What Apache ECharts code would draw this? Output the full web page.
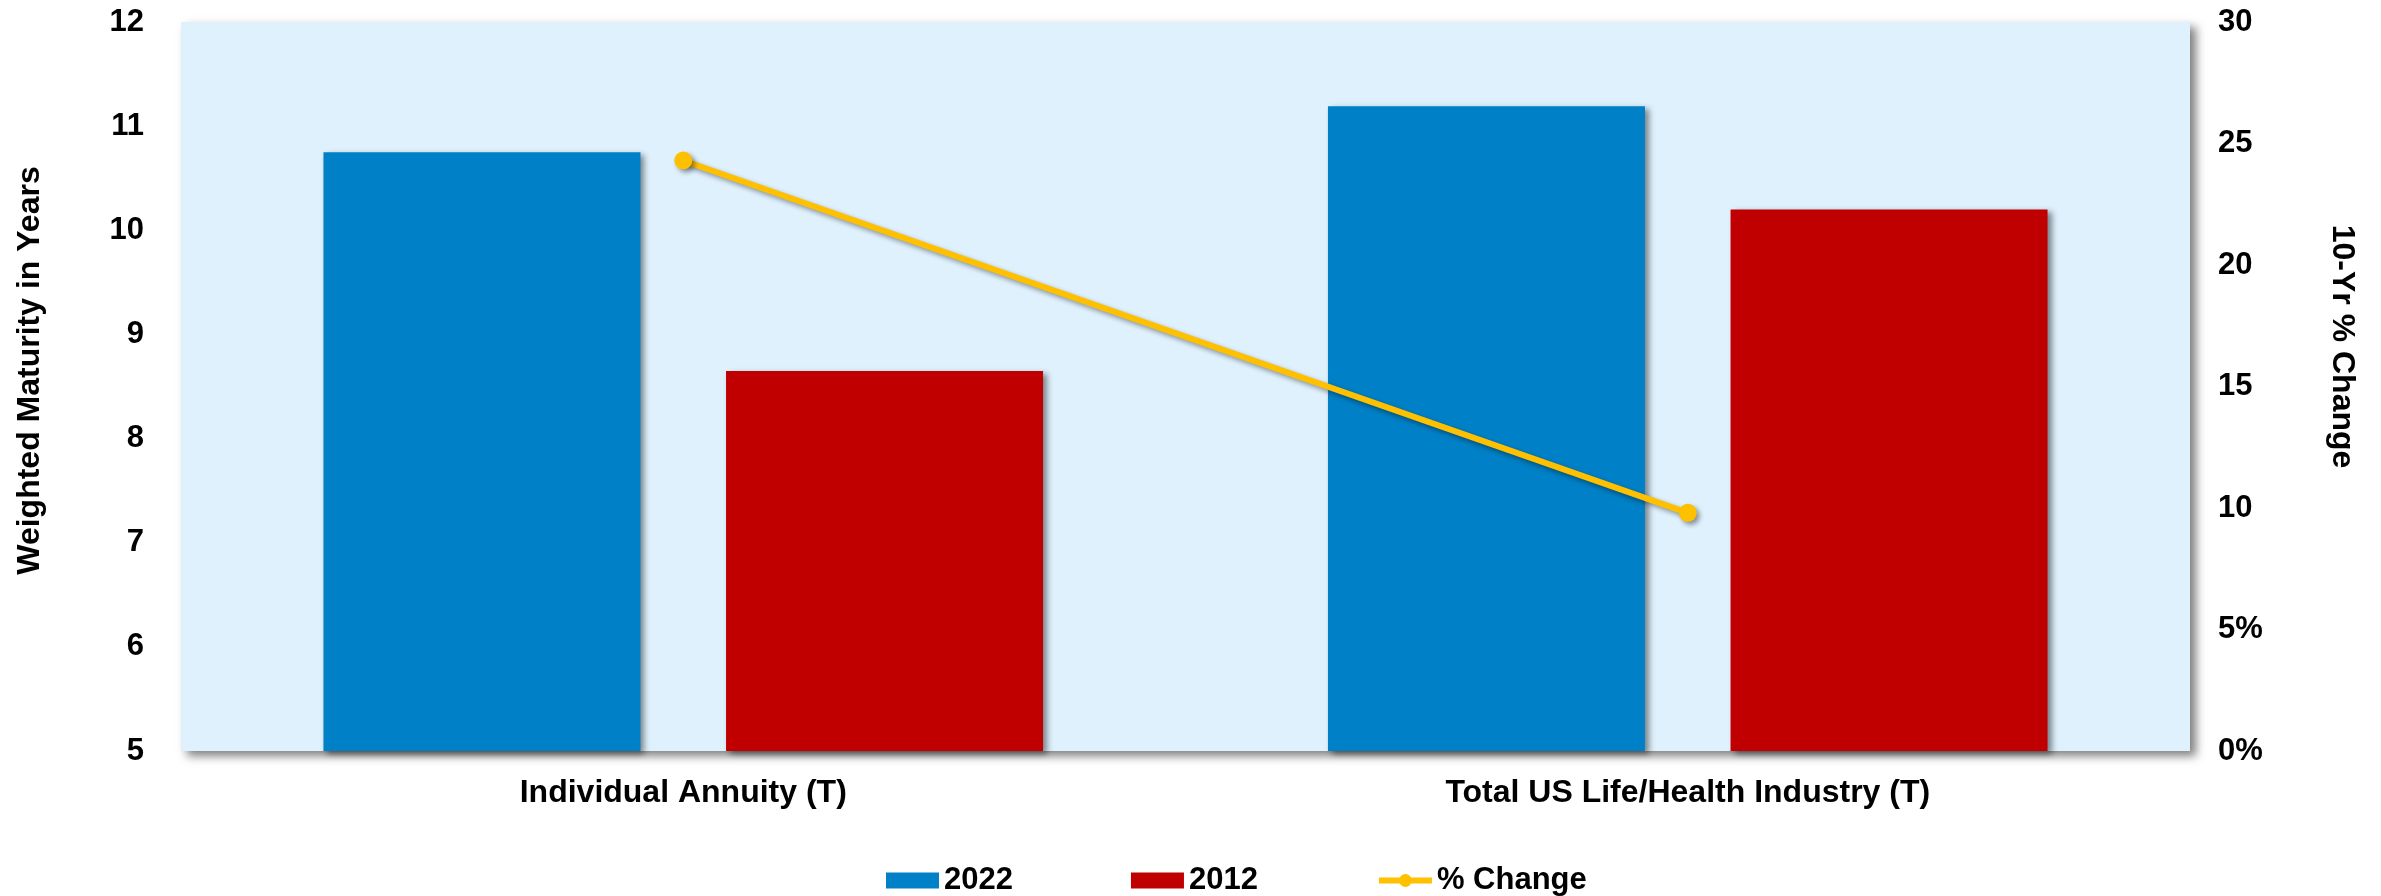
<!DOCTYPE html>
<html>
<head>
<meta charset="utf-8">
<script src="https://cdn.jsdelivr.net/npm/echarts@6/dist/echarts.min.js"></script>
<style>
  html, body { margin: 0; padding: 0; background: #ffffff; }
  #chart { width: 2381px; height: 896px; }
</style>
</head>
<body>
<div id="chart"></div>
<script>
// Weighted maturity by line of business, 2022 vs 2012, with 10-year % change
const categories = ['Individual Annuity (T)', 'Total US Life/Health Industry (T)'];
const maturity2022 = [10.75, 11.19];
const maturity2012 = [8.65, 10.2];
const pctChange = [24.3, 9.8];
const leftTicks = { min: 5, max: 12, step: 1 };
const rightTicks = { min: 0, max: 30, step: 5 };

const FONT = "'Liberation Sans', Arial, sans-serif";
const BLUE = '#0080C6';
const RED = '#C00000';
const GOLD = '#FFC000';

const barShadow = {
  shadowColor: 'rgba(0,0,0,0.45)',
  shadowBlur: 6,
  shadowOffsetX: 4,
  shadowOffsetY: 3
};

const chart = echarts.init(document.getElementById('chart'), null, { renderer: 'canvas' });

chart.setOption({
  animation: false,
  backgroundColor: '#ffffff',
  textStyle: { fontFamily: FONT },
  grid: {
    show: true,
    left: 181,
    top: 22,
    width: 2009,
    height: 729,
    backgroundColor: '#DFF1FD',
    borderWidth: 0,
    shadowColor: 'rgba(0,0,0,0.5)',
    shadowBlur: 9,
    shadowOffsetX: 6,
    shadowOffsetY: 5
  },
  legend: {
    left: 881,
    top: 860,
    itemWidth: 53,
    itemHeight: 16,
    itemGap: 118,
    textStyle: { fontFamily: FONT, fontWeight: 'bold', fontSize: 31, color: '#000' },
    data: [
      { name: '2022', icon: 'rect' },
      { name: '2012', icon: 'rect' },
      { name: '% Change', lineStyle: { width: 6 } }
    ]
  },
  xAxis: {
    type: 'category',
    data: categories,
    axisLine: { show: false },
    axisTick: { show: false },
    axisLabel: {
      margin: 26,
      fontFamily: FONT,
      fontWeight: 'bold',
      fontSize: 32,
      color: '#000'
    }
  },
  yAxis: [
    {
      type: 'value',
      min: leftTicks.min,
      max: leftTicks.max,
      interval: leftTicks.step,
      name: 'Weighted Maturity in Years',
      nameLocation: 'middle',
      nameGap: 135,
      nameTextStyle: {
        fontFamily: FONT, fontWeight: 'bold', fontSize: 32, color: '#000',
        padding: [0, 0, 0, 32]
      },
      axisLine: { show: false },
      axisTick: { show: false },
      splitLine: { show: false },
      axisLabel: {
        margin: 37,
        fontFamily: FONT,
        fontWeight: 'bold',
        fontSize: 31,
        color: '#000'
      }
    },
    {
      type: 'value',
      position: 'right',
      min: rightTicks.min,
      max: rightTicks.max,
      interval: rightTicks.step,
      name: '10-Yr % Change',
      nameLocation: 'middle',
      nameRotate: -90,
      nameGap: 136,
      nameTextStyle: {
        fontFamily: FONT, fontWeight: 'bold', fontSize: 32, color: '#000',
        padding: [0, 80, 0, 0]
      },
      axisLine: { show: false },
      axisTick: { show: false },
      splitLine: { show: false },
      axisLabel: {
        margin: 28,
        formatter: '{value}%',
        width: 46,
        overflow: 'truncate',
        ellipsis: '',
        fontFamily: FONT,
        fontWeight: 'bold',
        fontSize: 31,
        color: '#000'
      }
    }
  ],
  series: [
    {
      name: '2022',
      type: 'bar',
      yAxisIndex: 0,
      data: maturity2022,
      barWidth: 317,
      barGap: '27%',
      itemStyle: Object.assign({ color: BLUE }, barShadow)
    },
    {
      name: '2012',
      type: 'bar',
      yAxisIndex: 0,
      data: maturity2012,
      barWidth: 317,
      barGap: '27%',
      itemStyle: Object.assign({ color: RED }, barShadow)
    },
    {
      name: '% Change',
      type: 'line',
      yAxisIndex: 1,
      data: pctChange,
      symbol: 'circle',
      symbolSize: 18,
      z: 5,
      lineStyle: {
        color: GOLD,
        width: 6,
        shadowColor: 'rgba(0,0,0,0.4)',
        shadowBlur: 5,
        shadowOffsetX: 3,
        shadowOffsetY: 3
      },
      itemStyle: {
        color: GOLD,
        shadowColor: 'rgba(0,0,0,0.4)',
        shadowBlur: 5,
        shadowOffsetX: 3,
        shadowOffsetY: 3
      }
    }
  ]
});
</script>
</body>
</html>
